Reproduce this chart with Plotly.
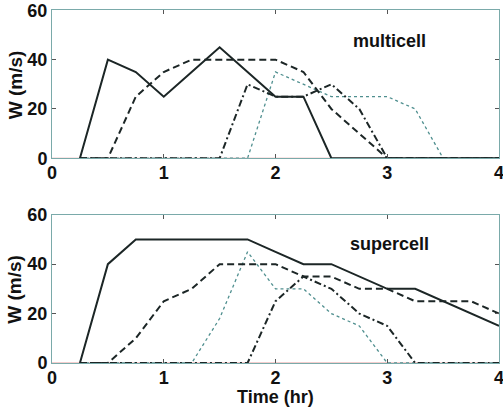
import plotly.graph_objects as go
from plotly.subplots import make_subplots

time_hr = [0.25, 0.5, 0.75, 1.0, 1.25, 1.5, 1.75, 2.0, 2.25, 2.5, 2.75, 3.0, 3.25, 3.5, 3.75, 4.0]

multi_solid = [0, 40, 35, 25, 35, 45, 35, 25, 25, 0, 0, 0, 0, 0, 0, 0]
multi_dashed = [0, 0, 25, 35, 40, 40, 40, 40, 35, 20, 10, 0, 0, 0, 0, 0]
multi_dashdot = [0, 0, 0, 0, 0, 0, 30, 25, 25, 30, 20, 0, 0, 0, 0, 0]
multi_dotted = [0, 0, 0, 0, 0, 0, 0, 35, 30, 25, 25, 25, 20, 0, 0, 0]

super_solid = [0, 40, 50, 50, 50, 50, 50, 45, 40, 40, 35, 30, 30, 25, 20, 15]
super_dashed = [0, 0, 10, 25, 30, 40, 40, 40, 35, 35, 30, 30, 25, 25, 25, 20]
super_dashdot = [0, 0, 0, 0, 0, 0, 0, 25, 35, 30, 20, 15, 0, 0, 0, 0]
super_dotted = [0, 0, 0, 0, 0, 18, 45, 30, 30, 20, 15, 0, 0, 0, 0, 0]

x_ticks = [0, 1, 2, 3, 4]
y_ticks = [0, 20, 40, 60]
panel_labels = ["multicell", "supercell"]
x_title = "Time (hr)"
y_title = "W (m/s)"

FONT = "Liberation Sans, Arial, sans-serif"
DARK = "#1c2626"
DOT = "#4f8f8f"
styles = {
    "dotted": dict(color=DOT, width=1.3, dash="dot"),
    "dashdot": dict(color=DARK, width=2, dash="7px,3px,2px,3px"),
    "dashed": dict(color=DARK, width=2, dash="7px,4px"),
    "solid": dict(color=DARK, width=2, dash="solid"),
}

fig = make_subplots(rows=2, cols=1, vertical_spacing=0.16)

panels = [
    {"dotted": multi_dotted, "dashdot": multi_dashdot, "dashed": multi_dashed, "solid": multi_solid},
    {"dotted": super_dotted, "dashdot": super_dashdot, "dashed": super_dashed, "solid": super_solid},
]

for r, series in enumerate(panels, start=1):
    for name in ["dotted", "dashdot", "dashed", "solid"]:
        fig.add_trace(go.Scatter(x=time_hr, y=series[name], mode="lines",
                                 line=styles[name], showlegend=False, hoverinfo="skip",
                                 cliponaxis=False),
                      row=r, col=1)

tickfont = dict(family=FONT, size=18, color="#111", weight="bold")
for r in (1, 2):
    fig.update_xaxes(range=[0, 4], tickvals=x_ticks, ticktext=[str(v) for v in x_ticks],
                     showgrid=False, zeroline=False, showline=True, linecolor="#7aaaaa",
                     linewidth=1, mirror="ticks", ticks="inside", ticklen=4, tickcolor="#555",
                     tickfont=tickfont, ticklabeloverflow="allow", automargin=False,
                     ticklabelstandoff=-2, row=r, col=1)
    fig.update_yaxes(range=[0, 60], tickvals=y_ticks, ticktext=[str(v) for v in y_ticks],
                     showgrid=False, zeroline=False, showline=True, linecolor="#7aaaaa",
                     linewidth=1, mirror="ticks", ticks="inside", ticklen=4, tickcolor="#555",
                     tickfont=tickfont, automargin=False, row=r, col=1)

# pink baseline along the bottom edge of each panel
for xr, yr in (("x domain", "y domain"), ("x2 domain", "y2 domain")):
    fig.add_shape(type="line", xref=xr, yref=yr, x0=0, x1=1, y0=0, y1=0,
                  line=dict(color="#e89a9a", width=1), layer="below")

titlefont = dict(family=FONT, size=19, color="#111", weight="bold")
for i, label in enumerate(panel_labels):
    xr = "x domain" if i == 0 else "x2 domain"
    yr = "y domain" if i == 0 else "y2 domain"
    fig.add_annotation(text=label, xref=xr, yref=yr, x=0.756, y=0.79 if i == 0 else 0.80,
                       xanchor="center", yanchor="middle", showarrow=False,
                       font=dict(family=FONT, size=18, color="#111", weight="bold"))
    # y-axis title for this panel
    fig.add_annotation(text=y_title, xref="paper", yref=yr, x=-0.083, y=0.5,
                       xanchor="center", yanchor="middle", textangle=-90, showarrow=False,
                       font=titlefont)

fig.add_annotation(text=x_title, xref="paper", yref="paper", x=0.5, y=-0.097,
                   xanchor="center", yanchor="middle", showarrow=False,
                   font=dict(family=FONT, size=18, color="#111", weight="bold"))

fig.update_layout(width=503, height=410, margin=dict(l=52, r=4, t=10, b=47),
                  paper_bgcolor="white", plot_bgcolor="white")
fig.update_yaxes(domain=[0.58, 0.999], row=1, col=1)
fig.update_yaxes(domain=[0.0, 0.42], row=2, col=1)

fig.write_html("out.html")
